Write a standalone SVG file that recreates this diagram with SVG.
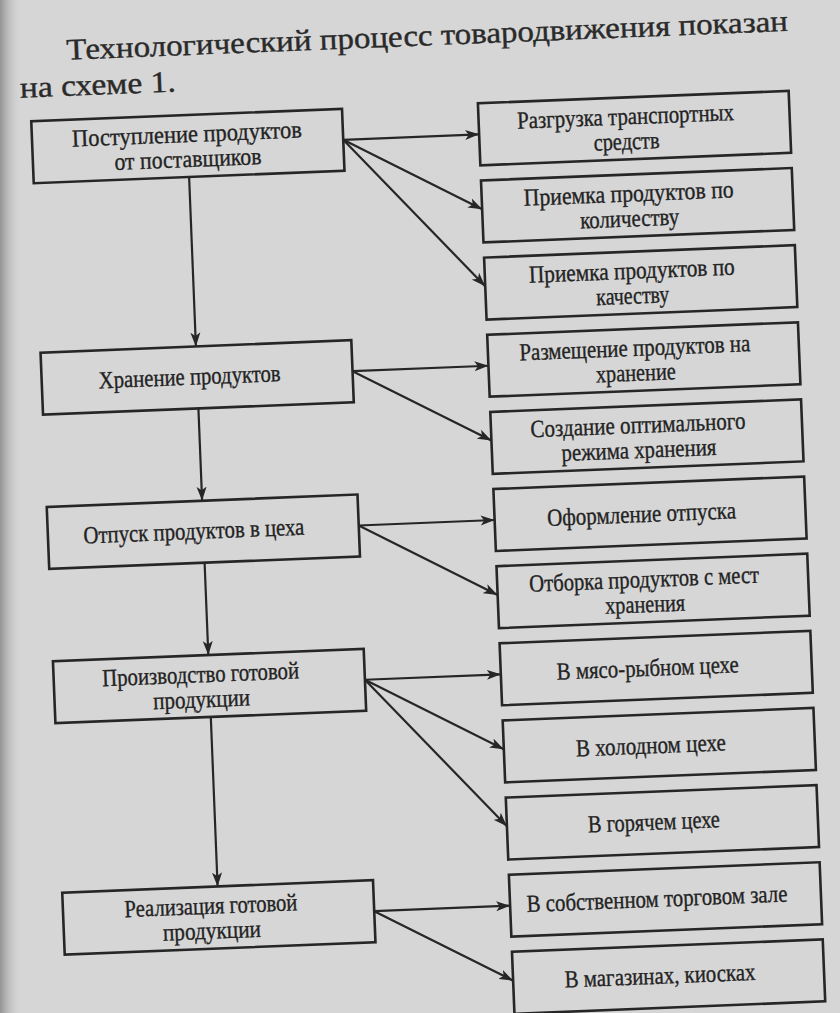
<svg xmlns="http://www.w3.org/2000/svg" width="840" height="1013" viewBox="0 0 840 1013">
<defs>
<linearGradient id="edge" x1="0" y1="0" x2="1" y2="0">
<stop offset="0" stop-color="#8c8c8c" stop-opacity="0.9"/>
<stop offset="1" stop-color="#d5d5d5" stop-opacity="0"/>
</linearGradient>
<marker id="ah" markerUnits="userSpaceOnUse" markerWidth="15" markerHeight="11" refX="14" refY="5.5" orient="auto">
<path d="M0,0.5 L14,5.5 L0,10.5 L3.5,5.5 Z" fill="#262626"/>
</marker>
<style>
.box{fill:none;stroke:#262626;stroke-width:2.6}
.t{font-family:"Liberation Serif","Times New Roman",serif;font-size:24.5px;fill:#232323;stroke:#232323;stroke-width:0.35;text-anchor:middle}
.title{font-family:"Liberation Serif","Times New Roman",serif;font-size:30px;fill:#2a2a2a;stroke:#2a2a2a;stroke-width:0.4}
.c{stroke:#262626;stroke-width:2.2;fill:none;marker-end:url(#ah)}
</style>
</defs>
<rect x="0" y="0" width="840" height="1013" fill="#d6d6d6"/>
<rect x="0" y="0" width="22" height="1013" fill="url(#edge)"/>
<g transform="rotate(-2.3 420 506)">
<g id="title">
<text class="title" x="85" y="46" textLength="722" lengthAdjust="spacingAndGlyphs">Технологический процесс товародвижения показан</text>
<text class="title" x="37" y="82" textLength="156" lengthAdjust="spacingAndGlyphs">на схеме 1.</text>
</g>
<g id="connectors">
<line class="c" x1="202.5" y1="168" x2="202.5" y2="337.6"/>
<line class="c" x1="202.5" y1="399.6" x2="202.5" y2="492"/>
<line class="c" x1="202.5" y1="554" x2="202.5" y2="646.4"/>
<line class="c" x1="202.5" y1="708.4" x2="202.5" y2="878"/>
<line class="c" x1="358" y1="137" x2="494" y2="137"/>
<line class="c" x1="358" y1="137" x2="494" y2="212"/>
<line class="c" x1="358" y1="137" x2="494" y2="289"/>
<line class="c" x1="358" y1="368.6" x2="494" y2="368.6"/>
<line class="c" x1="358" y1="368.6" x2="494" y2="443.5"/>
<line class="c" x1="358" y1="523" x2="494" y2="523"/>
<line class="c" x1="358" y1="523" x2="494" y2="598"/>
<line class="c" x1="358" y1="677.4" x2="494" y2="677.4"/>
<line class="c" x1="358" y1="677.4" x2="494" y2="752.5"/>
<line class="c" x1="358" y1="677.4" x2="494" y2="829.5"/>
<line class="c" x1="358" y1="909" x2="494" y2="909"/>
<line class="c" x1="358" y1="909" x2="494" y2="984"/>
</g>
<g id="n-postuplenie"><rect class="box" x="47" y="106" width="311" height="62"/>
<text class="t" x="202" y="133" textLength="230" lengthAdjust="spacingAndGlyphs">Поступление продуктов</text><text class="t" x="202" y="158" textLength="147" lengthAdjust="spacingAndGlyphs">от поставщиков</text></g>
<g id="n-hranenie"><rect class="box" x="47" y="337.6" width="311" height="62"/>
<text class="t" x="195" y="375.6" textLength="182" lengthAdjust="spacingAndGlyphs">Хранение продуктов</text></g>
<g id="n-otpusk"><rect class="box" x="47" y="492" width="311" height="62"/>
<text class="t" x="193" y="530" textLength="221" lengthAdjust="spacingAndGlyphs">Отпуск продуктов в цеха</text></g>
<g id="n-proizvodstvo"><rect class="box" x="47" y="646.4" width="311" height="62"/>
<text class="t" x="194" y="673.4" textLength="197" lengthAdjust="spacingAndGlyphs">Производство готовой</text><text class="t" x="194" y="698.4" textLength="97" lengthAdjust="spacingAndGlyphs">продукции</text></g>
<g id="n-realizaciya"><rect class="box" x="47" y="878" width="311" height="62"/>
<text class="t" x="195" y="905" textLength="173" lengthAdjust="spacingAndGlyphs">Реализация готовой</text><text class="t" x="195" y="930" textLength="98" lengthAdjust="spacingAndGlyphs">продукции</text></g>
<g id="r-razgruzka"><rect class="box" x="494" y="106" width="311" height="62"/>
<text class="t" x="641" y="133" textLength="217" lengthAdjust="spacingAndGlyphs">Разгрузка транспортных</text><text class="t" x="641" y="158" textLength="66" lengthAdjust="spacingAndGlyphs">средств</text></g>
<g id="r-kolichestvo"><rect class="box" x="494" y="183.2" width="311" height="62"/>
<text class="t" x="641" y="210.2" textLength="210" lengthAdjust="spacingAndGlyphs">Приемка продуктов по</text><text class="t" x="641" y="235.2" textLength="99" lengthAdjust="spacingAndGlyphs">количеству</text></g>
<g id="r-kachestvo"><rect class="box" x="494" y="260.4" width="311" height="62"/>
<text class="t" x="641" y="287.4" textLength="206" lengthAdjust="spacingAndGlyphs">Приемка продуктов по</text><text class="t" x="641" y="312.4" textLength="73" lengthAdjust="spacingAndGlyphs">качеству</text></g>
<g id="r-razmeschenie"><rect class="box" x="494" y="337.6" width="311" height="62"/>
<text class="t" x="641" y="364.6" textLength="231" lengthAdjust="spacingAndGlyphs">Размещение продуктов на</text><text class="t" x="641" y="389.6" textLength="80" lengthAdjust="spacingAndGlyphs">хранение</text></g>
<g id="r-rezhim"><rect class="box" x="494" y="414.8" width="311" height="62"/>
<text class="t" x="641" y="441.8" textLength="215" lengthAdjust="spacingAndGlyphs">Создание оптимального</text><text class="t" x="641" y="466.8" textLength="155" lengthAdjust="spacingAndGlyphs">режима хранения</text></g>
<g id="r-oformlenie"><rect class="box" x="494" y="492" width="311" height="62"/>
<text class="t" x="641" y="531" textLength="189" lengthAdjust="spacingAndGlyphs">Оформление отпуска</text></g>
<g id="r-otborka"><rect class="box" x="494" y="569.2" width="311" height="62"/>
<text class="t" x="641" y="596.2" textLength="230" lengthAdjust="spacingAndGlyphs">Отборка продуктов с мест</text><text class="t" x="641" y="621.2" textLength="80" lengthAdjust="spacingAndGlyphs">хранения</text></g>
<g id="r-myaso"><rect class="box" x="494" y="646.4" width="311" height="62"/>
<text class="t" x="641" y="685" textLength="182" lengthAdjust="spacingAndGlyphs">В мясо-рыбном цехе</text></g>
<g id="r-holodny"><rect class="box" x="494" y="723.6" width="311" height="62"/>
<text class="t" x="641" y="762.5" textLength="150" lengthAdjust="spacingAndGlyphs">В холодном цехе</text></g>
<g id="r-goryachy"><rect class="box" x="494" y="800.8" width="311" height="62"/>
<text class="t" x="641" y="839" textLength="132" lengthAdjust="spacingAndGlyphs">В горячем цехе</text></g>
<g id="r-zal"><rect class="box" x="494" y="878" width="311" height="62"/>
<text class="t" x="641" y="916" textLength="261" lengthAdjust="spacingAndGlyphs">В собственном торговом зале</text></g>
<g id="r-magaziny"><rect class="box" x="494" y="955.2" width="311" height="62"/>
<text class="t" x="641" y="993" textLength="191" lengthAdjust="spacingAndGlyphs">В магазинах, киосках</text></g>
</g>
</svg>
